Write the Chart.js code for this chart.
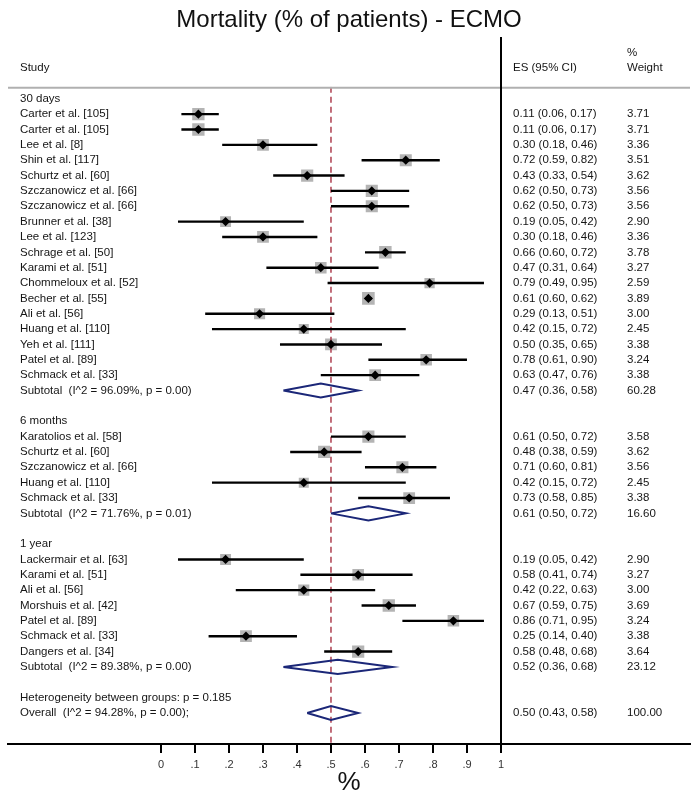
<!DOCTYPE html>
<html><head><meta charset="utf-8">
<script src="https://cdn.jsdelivr.net/npm/chart.js@4/dist/chart.umd.min.js"></script>
<style>html,body{margin:0;padding:0;background:#fff;overflow:hidden}#wrap{width:694px;height:798px;position:relative}canvas{display:block}</style>
</head><body><div id="wrap"><canvas id="c" width="694" height="798" style="width:694px;height:798px"></canvas></div>
<script>
// ---------------- DATA ----------------
const groupNames = ['30 days', '6 months', '1 year'];

const studies30 = ['Carter et al. [105]','Carter et al. [105]','Lee et al. [8]','Shin et al. [117]','Schurtz et al. [60]','Szczanowicz et al. [66]','Szczanowicz et al. [66]','Brunner et al. [38]','Lee et al. [123]','Schrage et al. [50]','Karami et al. [51]','Chommeloux et al. [52]','Becher et al. [55]','Ali et al. [56]','Huang et al. [110]','Yeh et al. [111]','Patel et al. [89]','Schmack et al. [33]'];
const es30 = [0.11,0.11,0.30,0.72,0.43,0.62,0.62,0.19,0.30,0.66,0.47,0.79,0.61,0.29,0.42,0.50,0.78,0.63];
const lo30 = [0.06,0.06,0.18,0.59,0.33,0.50,0.50,0.05,0.18,0.60,0.31,0.49,0.60,0.13,0.15,0.35,0.61,0.47];
const hi30 = [0.17,0.17,0.46,0.82,0.54,0.73,0.73,0.42,0.46,0.72,0.64,0.95,0.62,0.51,0.72,0.65,0.90,0.76];
const w30  = [3.71,3.71,3.36,3.51,3.62,3.56,3.56,2.90,3.36,3.78,3.27,2.59,3.89,3.00,2.45,3.38,3.24,3.38];

const studies6m = ['Karatolios et al. [58]','Schurtz et al. [60]','Szczanowicz et al. [66]','Huang et al. [110]','Schmack et al. [33]'];
const es6m = [0.61,0.48,0.71,0.42,0.73];
const lo6m = [0.50,0.38,0.60,0.15,0.58];
const hi6m = [0.72,0.59,0.81,0.72,0.85];
const w6m  = [3.58,3.62,3.56,2.45,3.38];

const studies1y = ['Lackermair et al. [63]','Karami et al. [51]','Ali et al. [56]','Morshuis et al. [42]','Patel et al. [89]','Schmack et al. [33]','Dangers et al. [34]'];
const es1y = [0.19,0.58,0.42,0.67,0.86,0.25,0.58];
const lo1y = [0.05,0.41,0.22,0.59,0.71,0.14,0.48];
const hi1y = [0.42,0.74,0.63,0.75,0.95,0.40,0.68];
const w1y  = [2.90,3.27,3.00,3.69,3.24,3.38,3.64];

const subES = [0.47, 0.61, 0.52];
const subLo = [0.36, 0.50, 0.36];
const subHi = [0.58, 0.72, 0.68];
const subW  = [60.28, 16.60, 23.12];
const subI2 = ['96.09%', '71.76%', '89.38%'];
const subP  = ['0.00', '0.01', '0.00'];

const overallES = 0.50, overallLo = 0.43, overallHi = 0.58, overallW = 100.00;
const overallI2 = '94.28%', overallP = '0.00';
const hetBetweenP = '0.185';

const tickValues = [0,0.1,0.2,0.3,0.4,0.5,0.6,0.7,0.8,0.9,1];
const tickLabels = ['0','.1','.2','.3','.4','.5','.6','.7','.8','.9','1'];

// ---------------- ROW LAYOUT ----------------
const groups = [
  {s: studies30, es: es30, lo: lo30, hi: hi30, w: w30},
  {s: studies6m, es: es6m, lo: lo6m, hi: hi6m, w: w6m},
  {s: studies1y, es: es1y, lo: lo1y, hi: hi1y, w: w1y}
];
const f2 = v => v.toFixed(2);
const texts = [];
const studyPts = [];
const diamonds = [];
let row = 0;
groups.forEach((g, gi) => {
  texts.push({row: row, label: groupNames[gi]});
  row++;
  g.s.forEach((name, i) => {
    texts.push({row, label: name, es: f2(g.es[i]) + ' (' + f2(g.lo[i]) + ', ' + f2(g.hi[i]) + ')', w: f2(g.w[i])});
    studyPts.push({x: g.es[i], y: row, w: g.w[i], lo: g.lo[i], hi: g.hi[i]});
    row++;
  });
  texts.push({row, label: 'Subtotal  (I^2 = ' + subI2[gi] + ', p = ' + subP[gi] + ')', es: f2(subES[gi]) + ' (' + f2(subLo[gi]) + ', ' + f2(subHi[gi]) + ')', w: f2(subW[gi])});
  diamonds.push({row, es: subES[gi], lo: subLo[gi], hi: subHi[gi]});
  row += 2;
});
texts.push({row, label: 'Heterogeneity between groups: p = ' + hetBetweenP});
row++;
texts.push({row, label: 'Overall  (I^2 = ' + overallI2 + ', p = ' + overallP + ');', es: f2(overallES) + ' (' + f2(overallLo) + ', ' + f2(overallHi) + ')', w: f2(overallW)});
diamonds.push({row, es: overallES, lo: overallLo, hi: overallHi});

const Y_MIN = -0.78, Y_MAX = 42.02;
const X_MIN = -0.45, X_MAX = 1.556;
const DH = 0.46;

// ---------------- DATASETS ----------------
const datasets = [];
datasets.push({
  type: 'scatter', label: 'weights', order: 5,
  data: studyPts.map(p => ({x: p.x, y: p.y, w: p.w})),
  pointStyle: 'rect',
  pointRadius: c => (6.4 * Math.sqrt(c.raw.w)) / Math.SQRT2,
  pointHoverRadius: c => (6.4 * Math.sqrt(c.raw.w)) / Math.SQRT2,
  backgroundColor: '#b4b4b4', borderWidth: 0
});
studyPts.forEach(p => {
  datasets.push({
    type: 'scatter', showLine: true, order: 3,
    data: [{x: p.lo, y: p.y}, {x: p.hi, y: p.y}],
    borderColor: '#000', borderWidth: 2.4, pointRadius: 0, fill: false
  });
});
datasets.push({
  type: 'scatter', label: 'es', order: 1,
  data: studyPts.map(p => ({x: p.x, y: p.y})),
  pointStyle: 'rectRot', pointRadius: 4.6, backgroundColor: '#000', borderWidth: 0
});
diamonds.forEach(d => {
  datasets.push({
    type: 'scatter', showLine: true, order: 2,
    data: [{x: d.lo, y: d.row}, {x: d.es, y: d.row - DH}, {x: d.hi, y: d.row}, {x: d.es, y: d.row + DH}, {x: d.lo, y: d.row}],
    borderColor: '#1b2778', borderWidth: 2, pointRadius: 0, fill: false, tension: 0
  });
});
datasets.push({
  type: 'scatter', showLine: true, order: 4,
  data: [{x: overallES, y: Y_MIN}, {x: overallES, y: Y_MAX}],
  borderColor: '#b24a5a', borderWidth: 1.6, borderDash: [6, 4], pointRadius: 0, fill: false
});

// ---------------- TEXT / FRAME PLUGIN ----------------
const FONT = '"Liberation Sans", Arial, Helvetica, sans-serif';
const textPlugin = {
  id: 'forestText',
  afterDraw(chart) {
    const ctx = chart.ctx, ys = chart.scales.y, xs = chart.scales.x, ca = chart.chartArea;
    ctx.save();
    ctx.strokeStyle = '#b0b0b0'; ctx.lineWidth = 2;
    ctx.beginPath(); ctx.moveTo(ca.left, ca.top + 1); ctx.lineTo(ca.right, ca.top + 1); ctx.stroke();
    const x1 = Math.round(xs.getPixelForValue(1));
    ctx.strokeStyle = '#000'; ctx.lineWidth = 2;
    ctx.beginPath(); ctx.moveTo(x1, 37); ctx.lineTo(x1, ca.bottom); ctx.stroke();
    ctx.fillStyle = '#151515';
    ctx.font = '11.5px ' + FONT;
    ctx.textBaseline = 'middle'; ctx.textAlign = 'left';
    ctx.fillText('Study', 20, 68);
    ctx.fillText('ES (95% CI)', 513, 68);
    ctx.fillText('%', 627, 53);
    ctx.fillText('Weight', 627, 68);
    texts.forEach(t => {
      const y = ys.getPixelForValue(t.row);
      ctx.fillText(t.label, 20, y);
      if (t.es) ctx.fillText(t.es, 513, y);
      if (t.w) ctx.fillText(t.w, 627, y);
    });
    ctx.restore();
  }
};

new Chart(document.getElementById('c'), {
  type: 'scatter',
  data: {datasets},
  options: {
    responsive: false, maintainAspectRatio: false, animation: false, devicePixelRatio: 1,
    layout: {autoPadding: false, padding: {left: 8, right: 4, top: 0, bottom: 0}},
    plugins: {
      legend: {display: false}, tooltip: {enabled: false},
      title: {display: true, text: 'Mortality (% of patients) - ECMO', color: '#111',
        font: {family: FONT, size: 24, weight: 'normal'}, padding: {top: 6, bottom: 52}}
    },
    scales: {
      x: {
        type: 'linear', position: 'bottom', min: X_MIN, max: X_MAX,
        border: {display: true, color: '#000', width: 2},
        grid: {display: true, drawOnChartArea: false, drawTicks: true, tickLength: 9, color: '#000', lineWidth: 2},
        afterBuildTicks: s => { s.ticks = tickValues.map(v => ({value: v})); },
        afterFit: s => { s.height = 54; s.paddingLeft = 0; s.paddingRight = 0; },
        ticks: {autoSkip: false, maxRotation: 0, padding: 5, color: '#333',
          font: {family: FONT, size: 11},
          callback: (v, i) => tickLabels[i]},
        title: {display: true, text: '%', color: '#111', font: {family: FONT, size: 26}, padding: {top: 0, bottom: 0}}
      },
      y: {type: 'linear', display: false, reverse: true, min: Y_MIN, max: Y_MAX}
    }
  },
  plugins: [textPlugin]
});
</script>
</body></html>
